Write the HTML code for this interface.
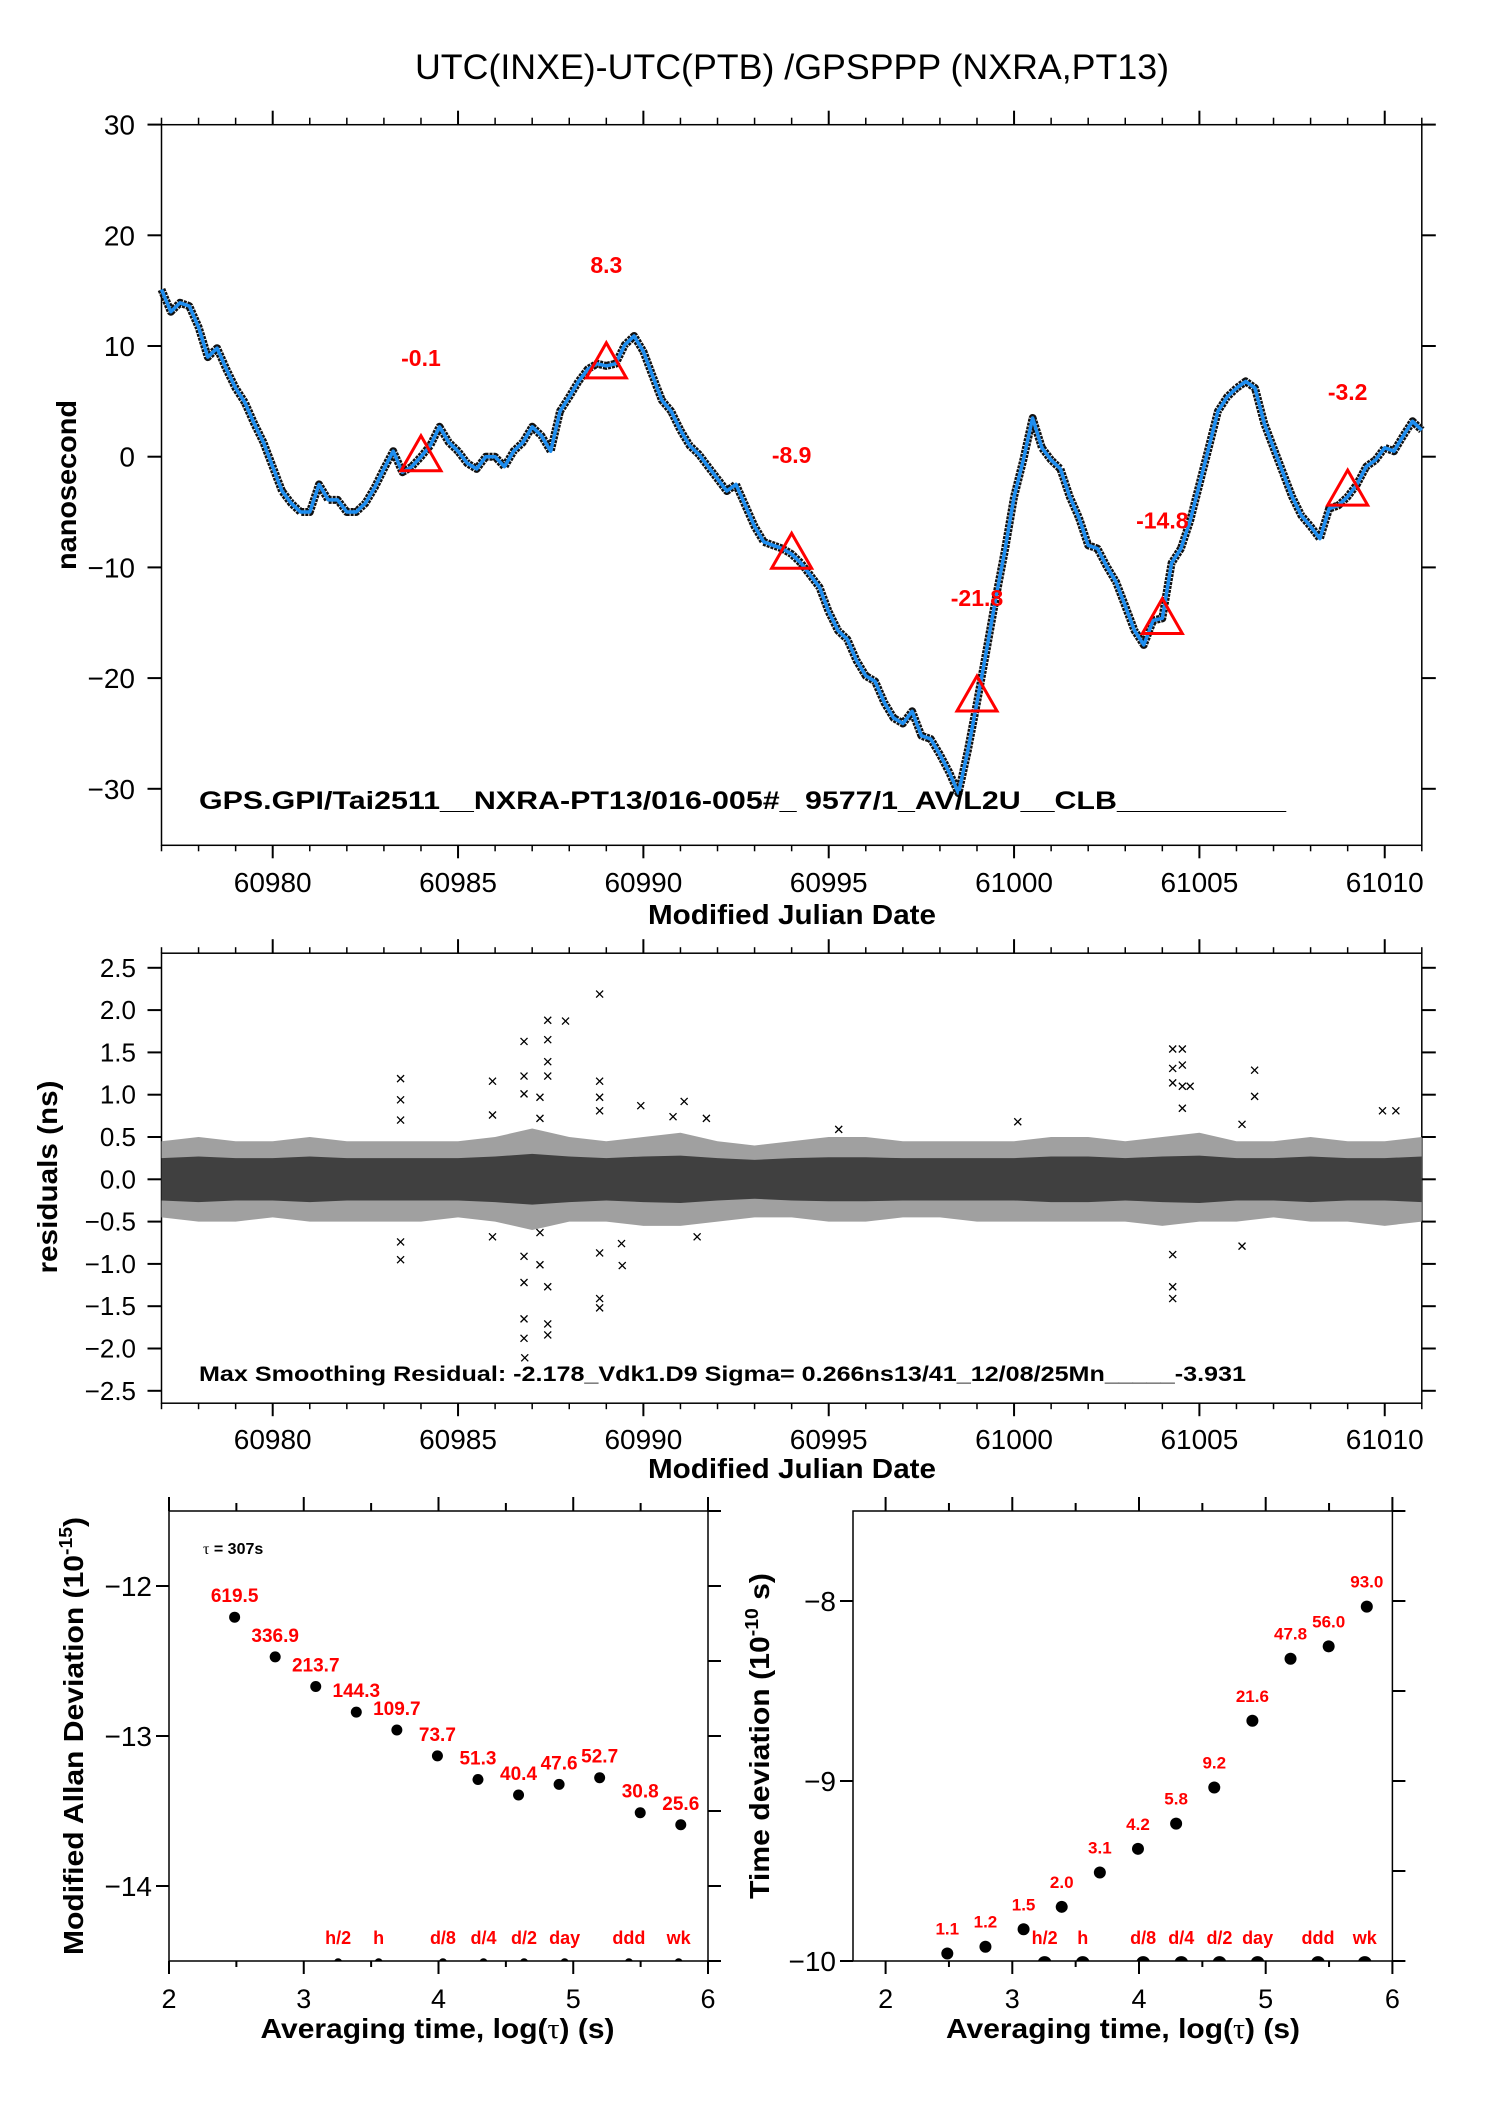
<!DOCTYPE html>
<html><head><meta charset="utf-8"><style>
html,body{margin:0;padding:0;background:#fff;}
svg{display:block;font-family:"Liberation Sans",Arial,sans-serif;}
</style></head><body>
<svg id="fig" width="1488" height="2105" viewBox="0 0 1488 2105" xmlns="http://www.w3.org/2000/svg">
<rect width="1488" height="2105" fill="#fff"/>
<text x="792" y="79" font-size="35" text-anchor="middle" textLength="754" lengthAdjust="spacingAndGlyphs">UTC(INXE)-UTC(PTB)  /GPSPPP  (NXRA,PT13)</text>
<g id="top"></g>
<g id="mid"></g>
<g id="adev"></g>
<g id="tdev"></g>
</svg>
<script>
// ---------- top panel data ----------
const mjdStart = 60977, mjdStep = 0.25;
const offsetNs = [15.1,13.1,13.9,13.6,11.7,9.0,9.8,7.9,6.2,4.9,3.0,1.3,-0.9,-3.1,-4.2,-5.0,-5.0,-2.5,-3.9,-3.9,-5.0,-5.0,-4.2,-2.8,-1.1,0.5,-1.4,-0.9,0.0,1.0,2.7,1.3,0.5,-0.6,-1.1,0.0,0.0,-0.9,0.5,1.3,2.7,1.9,0.5,4.1,5.4,6.8,7.9,8.4,8.2,8.4,10.1,10.9,9.5,7.3,5.1,4.1,2.4,1.0,0.2,-0.9,-2.0,-3.1,-2.5,-4.4,-6.3,-7.7,-8.0,-8.3,-8.8,-9.6,-10.7,-11.8,-14.0,-15.7,-16.5,-18.4,-19.8,-20.3,-22.2,-23.6,-24.1,-23.0,-25.2,-25.5,-26.9,-28.5,-30.4,-26.6,-22.2,-17.6,-12.9,-8.5,-3.6,-0.3,3.5,0.8,-0.3,-1.1,-3.6,-5.5,-8.0,-8.3,-9.9,-11.3,-13.5,-15.7,-17.0,-14.8,-14.6,-9.6,-8.3,-5.8,-2.5,0.8,4.1,5.4,6.2,6.8,6.2,3.0,0.8,-1.4,-3.6,-5.3,-6.3,-7.4,-4.7,-4.4,-3.6,-2.5,-0.9,-0.3,0.8,0.5,1.9,3.2,2.4];
const triMjd = [60984,60989,60994,60999,61004,61009];
const triVal = [-0.1,8.3,-8.9,-21.8,-14.8,-3.2];
const triLabel = ["-0.1","8.3","-8.9","-21.8","-14.8","-3.2"];
const topYTicks = [30,20,10,0,-10,-20,-30];
const mjdTicks = [60980,60985,60990,60995,61000,61005,61010];
// ---------- residual panel data ----------
const resDays = [60977,60978,60979,60980,60981,60982,60983,60984,60985,60986,60987,60988,60989,60990,60991,60992,60993,60994,60995,60996,60997,60998,60999,61000,61001,61002,61003,61004,61005,61006,61007,61008,61009,61010,61011];
const resUpper = [0.45,0.5,0.45,0.45,0.5,0.45,0.45,0.45,0.45,0.5,0.6,0.5,0.45,0.5,0.55,0.45,0.4,0.45,0.5,0.5,0.45,0.45,0.45,0.45,0.5,0.5,0.45,0.5,0.55,0.45,0.45,0.5,0.45,0.45,0.5];
const resLower = [-0.45,-0.5,-0.5,-0.45,-0.5,-0.5,-0.5,-0.5,-0.45,-0.5,-0.6,-0.5,-0.5,-0.55,-0.55,-0.5,-0.45,-0.45,-0.5,-0.5,-0.45,-0.45,-0.5,-0.5,-0.5,-0.5,-0.5,-0.55,-0.5,-0.5,-0.45,-0.5,-0.5,-0.55,-0.5];
const resCore = [0.25,0.27,0.25,0.25,0.27,0.25,0.25,0.25,0.25,0.27,0.3,0.27,0.25,0.27,0.28,0.25,0.23,0.25,0.26,0.26,0.25,0.25,0.25,0.25,0.27,0.27,0.25,0.27,0.28,0.25,0.25,0.27,0.25,0.25,0.27];
const outMjd = [60983.45,60983.45,60983.45,60983.45,60983.45,60985.93,60985.93,60985.93,60986.78,60986.78,60986.78,60986.78,60986.78,60986.78,60986.78,60986.8,60987.21,60987.21,60987.21,60987.21,60987.42,60987.42,60987.42,60987.42,60987.42,60987.42,60987.42,60987.9,60988.82,60988.82,60988.82,60988.82,60988.82,60988.82,60988.82,60989.41,60989.43,60989.93,60991.1,60990.8,60991.45,60991.7,61004.28,61004.28,61004.28,61004.28,61004.28,61004.28,61004.54,61004.54,61004.54,61004.54,61004.75,61006.49,61006.49,61006.15,61006.15,61009.94,61010.3,61000.1,60995.27];
const outVal = [1.19,0.94,0.70,-0.74,-0.95,1.16,0.76,-0.68,1.63,1.22,1.01,-0.91,-1.22,-1.65,-1.88,-2.11,0.97,0.72,-0.63,-1.01,1.88,1.65,1.39,1.22,-1.27,-1.71,-1.84,1.87,2.19,1.16,0.97,0.81,-0.87,-1.41,-1.52,-0.76,-1.02,0.87,0.92,0.74,-0.68,0.72,1.54,1.31,1.14,-0.89,-1.27,-1.41,1.54,1.35,1.10,0.84,1.10,1.29,0.98,0.65,-0.79,0.81,0.81,0.68,0.59];
const resYTicks = [2.5,2.0,1.5,1.0,0.5,0.0,-0.5,-1.0,-1.5,-2.0,-2.5];
// ---------- stability panels ----------
const logTau = [2.487,2.788,3.089,3.390,3.691,3.992,4.293,4.594,4.895,5.196,5.497,5.798];
const madevVal = [619.5,336.9,213.7,144.3,109.7,73.7,51.3,40.4,47.6,52.7,30.8,25.6];
const madevLabel = ["619.5","336.9","213.7","144.3","109.7","73.7","51.3","40.4","47.6","52.7","30.8","25.6"];
const tdevVal = [1.1,1.2,1.5,2.0,3.1,4.2,5.8,9.2,21.6,47.8,56.0,93.0];
const tdevLabel = ["1.1","1.2","1.5","2.0","3.1","4.2","5.8","9.2","21.6","47.8","56.0","93.0"];
const markTau = [3.255,3.556,4.033,4.334,4.635,4.936,5.413,5.782];
const markLabel = ["h/2","h","d/8","d/4","d/2","day","ddd","wk"];
const adevYTicks = [-12,-13,-14];
const tdevYTicks = [-8,-9,-10];
const logTicks = [2,3,4,5,6];

const NS="http://www.w3.org/2000/svg";
function mk(parent,tag,attrs,txt){const e=document.createElementNS(NS,tag);for(const k in attrs)e.setAttribute(k,attrs[k]);if(txt!==undefined)e.textContent=txt;parent.appendChild(e);return e;}

// ===== TOP PANEL =====
(function(){
const g=document.getElementById('top');
const L=161.5,R=1421.8,T=124.7,B=845.3;
const x=m=>L+(m-60977)*(R-L)/34;
const y=v=>456.7-v*11.07;
let f=mk(g,'rect',{x:L,y:T,width:R-L,height:B-T,fill:'none',stroke:'#000','stroke-width':1.5});

for(let d=60977;d<=61011;d++){const maj=d%5===0;
 mk(g,'line',{x1:x(d),x2:x(d),y1:B,y2:B+(maj?13:6),stroke:'#000','stroke-width':maj?2:1.5});
 mk(g,'line',{x1:x(d),x2:x(d),y1:T,y2:T-(maj?14:7),stroke:'#000','stroke-width':maj?2:1.5});}
mjdTicks.forEach(t=>{const e=mk(g,'text',{x:x(t),y:892,'font-size':28,'text-anchor':'middle'},String(t));
 });
topYTicks.forEach(t=>{mk(g,'line',{x1:L-14,x2:L,y1:y(t),y2:y(t),stroke:'#000','stroke-width':2});
 mk(g,'line',{x1:R,x2:R+14,y1:y(t),y2:y(t),stroke:'#000','stroke-width':2});
 const e=mk(g,'text',{x:135,y:y(t)+10,'font-size':28,'text-anchor':'end'},t<0?'\u2212'+(-t):String(t));
 });
let pts=offsetNs.map((v,i)=>x(mjdStart+i*mjdStep).toFixed(1)+','+y(v).toFixed(1)).join(' ');
let band=mk(g,'polyline',{points:pts,fill:'none',stroke:'#111','stroke-width':8,'stroke-linejoin':'round','stroke-dasharray':'3 1'});

let ln=mk(g,'polyline',{points:pts,fill:'none',stroke:'#1e8ef0','stroke-width':3.5,'stroke-linejoin':'round'});

triMjd.forEach((m,i)=>{const cx=x(m),cy=y(triVal[i]);
 const t=mk(g,'polygon',{points:`${cx-20},${cy+13} ${cx+20},${cy+13} ${cx},${cy-22}`,fill:'none',stroke:'#f00','stroke-width':3});
 
 const l=mk(g,'text',{x:cx,y:cy-92,'font-size':23,'font-weight':'bold',fill:'#f00','text-anchor':'middle'},triLabel[i]);
 });
let e=mk(g,'text',{x:199,y:809,'font-size':25,'font-weight':'bold',textLength:1087,lengthAdjust:'spacingAndGlyphs'},'GPS.GPI/Tai2511__NXRA-PT13/016-005#_  9577/1_AV/L2U__CLB__________');

e=mk(g,'text',{x:792,y:924,'font-size':28,'font-weight':'bold','text-anchor':'middle',textLength:288,lengthAdjust:'spacingAndGlyphs'},'Modified Julian Date');

e=mk(g,'text',{x:0,y:0,'font-size':28,'font-weight':'bold','text-anchor':'middle',transform:'translate(76,485) rotate(-90)',textLength:170,lengthAdjust:'spacingAndGlyphs'},'nanosecond');

})();

// ===== RESIDUAL PANEL =====
(function(){
const g=document.getElementById('mid');
const L=161.5,R=1421.8,T=953.2,B=1403.2;
const x=m=>L+(m-60977)*(R-L)/34;
const y=v=>1179.3-v*84.6;
let f=mk(g,'rect',{x:L,y:T,width:R-L,height:B-T,fill:'none',stroke:'#000','stroke-width':1.5});

let up=resDays.map((d,i)=>x(d)+','+y(resUpper[i])), lo=resDays.map((d,i)=>x(d)+','+y(resLower[i])).reverse();
let b=mk(g,'polygon',{points:up.concat(lo).join(' '),fill:'#a0a0a0'});

let cu=resDays.map((d,i)=>x(d)+','+y(resCore[i])), cl=resDays.map((d,i)=>x(d)+','+y(-resCore[i])).reverse();
b=mk(g,'polygon',{points:cu.concat(cl).join(' '),fill:'#404040'});

outMjd.forEach((m,i)=>{const cx=x(m),cy=y(outVal[i]);
 const p=mk(g,'path',{d:`M${cx-3.5},${cy-3.5}L${cx+3.5},${cy+3.5}M${cx-3.5},${cy+3.5}L${cx+3.5},${cy-3.5}`,stroke:'#000','stroke-width':1.3});
 });
for(let d=60977;d<=61011;d++){const maj=d%5===0;
 mk(g,'line',{x1:x(d),x2:x(d),y1:B,y2:B+(maj?13:6),stroke:'#000','stroke-width':maj?2:1.5});
 mk(g,'line',{x1:x(d),x2:x(d),y1:T,y2:T-(maj?14:6),stroke:'#000','stroke-width':maj?2:1.5});}
mjdTicks.forEach(t=>{const e=mk(g,'text',{x:x(t),y:1449,'font-size':28,'text-anchor':'middle'},String(t));
 });
resYTicks.forEach(t=>{mk(g,'line',{x1:L-14,x2:L,y1:y(t),y2:y(t),stroke:'#000','stroke-width':2});
 mk(g,'line',{x1:R,x2:R+14,y1:y(t),y2:y(t),stroke:'#000','stroke-width':2});
 const s=(t<0?'\u2212':'')+Math.abs(t).toFixed(1);
 const e=mk(g,'text',{x:136,y:y(t)+9,'font-size':26,'text-anchor':'end'},s);
 });
let e=mk(g,'text',{x:199,y:1381,'font-size':21,'font-weight':'bold',textLength:1047,lengthAdjust:'spacingAndGlyphs'},'Max Smoothing Residual: -2.178_Vdk1.D9  Sigma= 0.266ns13/41_12/08/25Mn_____-3.931');

e=mk(g,'text',{x:792,y:1478,'font-size':28,'font-weight':'bold','text-anchor':'middle',textLength:288,lengthAdjust:'spacingAndGlyphs'},'Modified Julian Date');

e=mk(g,'text',{x:0,y:0,'font-size':28,'font-weight':'bold','text-anchor':'middle',transform:'translate(57,1177) rotate(-90)',textLength:193,lengthAdjust:'spacingAndGlyphs'},'residuals (ns)');

})();

// ===== STABILITY PANELS =====
function stab(id,L,FL,R,ymin,ymax,yTop,yBot,vals,labels,scale,yTicks,ylabX,ylabParts,ylabLen,dotR,markR,labOff,labSize){
const g=document.getElementById(id);
const x=v=>L+(v-2)*(R-L)/4;
const y=v=>yBot-(v-ymin)*(yBot-yTop)/(ymax-ymin);
let f=mk(g,'rect',{x:FL,y:yTop,width:R-FL,height:yBot-yTop,fill:'none',stroke:'#000','stroke-width':1.5});

for(let t=2;t<=6;t+=0.5){const maj=Number.isInteger(t);
 mk(g,'line',{x1:x(t),x2:x(t),y1:yTop,y2:yTop-(maj?14:8),stroke:'#000','stroke-width':2});
 mk(g,'line',{x1:x(t),x2:x(t),y1:yBot,y2:yBot+(maj?13:6),stroke:'#000','stroke-width':2});}
logTicks.forEach(t=>{const e=mk(g,'text',{x:x(t),y:2008,'font-size':27,'text-anchor':'middle'},String(t));
 });
for(let t=ymin;t<=ymax+1e-9;t+=0.5){mk(g,'line',{x1:R,x2:R+13,y1:y(t),y2:y(t),stroke:'#000','stroke-width':2});}
yTicks.forEach(t=>{mk(g,'line',{x1:FL-13,x2:FL,y1:y(t),y2:y(t),stroke:'#000','stroke-width':2});
 const e=mk(g,'text',{x:FL-17,y:y(t)+10,'font-size':28,'text-anchor':'end'},'\u2212'+(-t));
 });
logTau.forEach((lt,i)=>{const cx=x(lt),cy=y(Math.log10(vals[i])+scale);
 const c=mk(g,'circle',{cx:cx,cy:cy,r:dotR,fill:'#000'});
 
 const l=mk(g,'text',{x:cx,y:cy-labOff,'font-size':labSize,'font-weight':'bold',fill:'#f00','text-anchor':'middle'},labels[i]);
 });
const clipId=id+'-clip';
const cp=mk(g,'clipPath',{id:clipId});mk(cp,'rect',{x:FL,y:yTop,width:R-FL,height:yBot-yTop});
markTau.forEach((lt,i)=>{const c=mk(g,'circle',{cx:x(lt),cy:yBot+markR*0.3,r:markR,fill:'#000','clip-path':`url(#${clipId})`});
 
 const l=mk(g,'text',{x:x(lt),y:yBot-17,'font-size':18,'font-weight':'bold',fill:'#f00','text-anchor':'middle'},markLabel[i]);
 });
let e=mk(g,'text',{x:(L+R)/2+(id==='tdev'?-16:-1),y:2038,'font-size':28,'font-weight':'bold','text-anchor':'middle',textLength:354,lengthAdjust:'spacingAndGlyphs'});

mk(e,'tspan',{},'Averaging time, log(');mk(e,'tspan',{'font-family':'Liberation Serif,serif','font-weight':'normal'},'\u03c4');mk(e,'tspan',{},') (s)');
e=mk(g,'text',{x:0,y:0,'font-size':28,'font-weight':'bold','text-anchor':'middle',transform:`translate(${ylabX},1736) rotate(-90)`,textLength:ylabLen,lengthAdjust:'spacingAndGlyphs'});

mk(e,'tspan',{},ylabParts[0]);mk(e,'tspan',{'font-size':18,dy:-11},ylabParts[1]);mk(e,'tspan',{dy:11},ylabParts[2]);
return g;}
const ga=stab('adev',169,169,708,-14.5,-11.5,1511,1961,madevVal,madevLabel,-15,adevYTicks,83,['Modified Allan Deviation (10','-15',')'],438,5.5,4,15,19);
let te=mk(ga,'text',{x:203,y:1554,'font-size':16,'font-weight':'bold'});

mk(te,'tspan',{'font-family':'Liberation Serif,serif','font-weight':'normal'},'\u03c4');mk(te,'tspan',{},' = 307s');
stab('tdev',885.6,853,1392.4,-10,-7.5,1511,1961,tdevVal,tdevLabel,-10,tdevYTicks,769,['Time deviation (10','-10',' s)'],326,6,7,19,17);
</script>
</body></html>
